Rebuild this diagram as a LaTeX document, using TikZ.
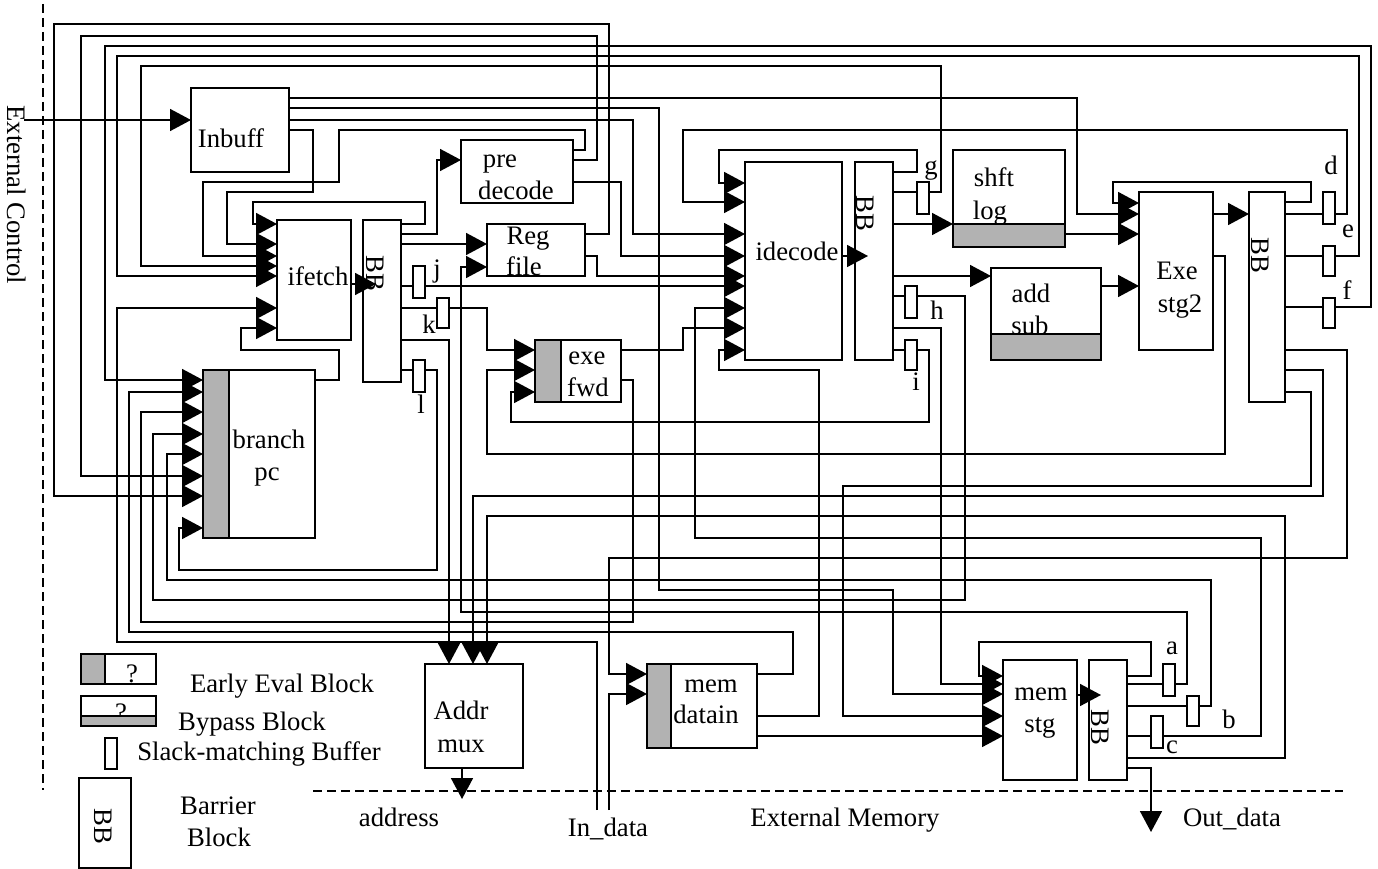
\documentclass[tikz,border=0pt]{standalone}
\usepackage{fontspec}
\setmainfont{Liberation Serif}
\usetikzlibrary{arrows.meta}
\definecolor{barfill}{gray}{0.7}

\begin{document}
\begin{tikzpicture}[
    x=1pt, y=-1pt,
    >={Triangle[length=21pt, width=22pt]},
    wire/.style     = {line width=1.7pt},
    blockbox/.style = {draw, line width=1.7pt, anchor=north west, inner sep=0pt, outer sep=0pt},
    bar/.style      = {blockbox, fill=barfill},
    slack/.style    = {blockbox, minimum width=12},
    txt/.style      = {font=\fontsize{26.7}{30}\selectfont, anchor=base, inner sep=0pt},
    sidebb/.style   = {font=\fontsize{26.7}{30}\selectfont, rotate=-90, inner sep=0pt},
    extern/.style   = {line width=1.7pt, dash pattern=on 9pt off 5pt}
]
\useasboundingbox (0,0) rectangle (1378,869);

% Block texts go first: borders and grey bars cut across some of them
\node[txt] (tinbuff) at (231,148) {Inbuff};
\node[txt] (tpre)    at (500,168) {pre};
\node[txt] (tdecode) at (516,200) {decode};
\node[txt] (treg)    at (528,244) {Reg};
\node[txt] (tfile)   at (524,275) {file};
\node[txt] (tifetch) at (318,285) {ifetch};
\node[txt] (tidec)   at (797,260) {idecode};
\node[txt] (texe)    at (587,364) {exe};
\node[txt] (tfwd)    at (588,396) {fwd};
\node[txt] (tbranch) at (269,448) {branch};
\node[txt] (tpc)     at (267,480) {pc};
\node[txt] (tshft)   at (994,186) {shft};
\node[txt] (tlog)    at (990,219) {log};
\node[txt] (tadd)    at (1031,302) {add};
\node[txt] (tsub)    at (1030,334) {sub};
\node[txt] (tstga)   at (1177,279) {Exe};
\node[txt] (tstgb)   at (1180,312) {stg2};
\node[txt] (tmema)   at (711,692) {mem};
\node[txt] (tdatain) at (706,723) {datain};
\node[txt] (tmemb)   at (1041,700) {mem};
\node[txt] (tstg)    at (1040,732) {stg};
\node[txt] (taddr)   at (461,719) {Addr};
\node[txt] (tmux)    at (461,752) {mux};
\node[sidebb] (tbba) at (375,273) {BB};
\node[sidebb] (tbbb) at (865,213) {BB};
\node[sidebb] (tbbc) at (1260,255) {BB};
\node[sidebb] (tbbd) at (1100,727) {BB};

% Legend texts
\node[txt] (qearly)  at (132,682) {?};
\node[txt] (qbypass) at (121,721) {?};
\node[sidebb] (tkeybb) at (103,826) {BB};
\node[txt] (learly)  at (282,692) {Early Eval Block};
\node[txt] (lbypass) at (252,730) {Bypass Block};
\node[txt] (lslack)  at (259,760) {Slack-matching Buffer};
\node[txt] (lbarr)   at (218,814) {Barrier};
\node[txt] (lblock)  at (219,846) {Block};

% Outside world
\node[sidebb] (lctrl) at (17,195) {External Control};
\node[txt] (laddress) at (399,826) {address};
\node[txt] (lindata)  at (608,836) {In\_data};
\node[txt] (lmemory)  at (845,826) {External Memory};
\node[txt] (loutdata) at (1232,826) {Out\_data};

% Buffer letters
\node[txt] (la) at (1172,654) {a};
\node[txt] (lb) at (1229,728) {b};
\node[txt] (lc) at (1172,753) {c};
\node[txt] (ld) at (1331,175) {d};
\node[txt] (le) at (1348,237) {e};
\node[txt] (lf) at (1347,299) {f};
\node[txt] (lg) at (931,175) {g};
\node[txt] (lh) at (937,319) {h};
\node[txt] (li) at (916,390) {i};
\node[txt] (lj) at (437,277) {j};
\node[txt] (lk) at (429,333) {k};
\node[txt] (ll) at (421,413) {l};

% Blocks
\node[blockbox, minimum width=98,  minimum height=84]  (inbuff) at (191,88) {};
\node[blockbox, minimum width=112, minimum height=63]  (pre)    at (461,140) {};
\node[blockbox, minimum width=98,  minimum height=52]  (reg)    at (487,224) {};
\node[blockbox, minimum width=74,  minimum height=120] (ifetch) at (277,220) {};
\node[blockbox, minimum width=38,  minimum height=162] (bba)    at (363,220) {};
\node[blockbox, minimum width=97,  minimum height=198] (idec)   at (745,162) {};
\node[blockbox, minimum width=38,  minimum height=198] (bbb)    at (855,162) {};
\node[blockbox, minimum width=86,  minimum height=62]  (exefwd) at (535,340) {};
\node[blockbox, minimum width=112, minimum height=168] (branch) at (203,370) {};
\node[blockbox, minimum width=112, minimum height=97]  (shft)   at (953,150) {};
\node[blockbox, minimum width=110, minimum height=92]  (addsub) at (991,268) {};
\node[blockbox, minimum width=74,  minimum height=158] (exe)    at (1139,192) {};
\node[blockbox, minimum width=36,  minimum height=210] (bbc)    at (1249,192) {};
\node[blockbox, minimum width=74,  minimum height=120] (memstg) at (1003,660) {};
\node[blockbox, minimum width=38,  minimum height=120] (bbd)    at (1089,660) {};
\node[blockbox, minimum width=110, minimum height=84]  (datain) at (647,664) {};
\node[blockbox, minimum width=98,  minimum height=104] (addr)   at (425,664) {};

% Grey parts of early eval and bypass blocks
\node[bar, minimum width=26,  minimum height=168] (barbranch) at (203,370) {};
\node[bar, minimum width=26,  minimum height=62]  (barexe)    at (535,340) {};
\node[bar, minimum width=24,  minimum height=84]  (bardatain) at (647,664) {};
\node[bar, minimum width=112, minimum height=23]  (barshft)   at (953,224) {};
\node[bar, minimum width=110, minimum height=26]  (baradd)    at (991,334) {};

% Legend boxes
\node[blockbox, minimum width=75, minimum height=30] (keyearly)  at (81,654) {};
\node[bar, minimum width=24, minimum height=30]      (keybara)   at (81,654) {};
\node[blockbox, minimum width=75, minimum height=30] (keybypass) at (81,696) {};
\node[bar, minimum width=75, minimum height=10]      (keybarb)   at (81,716) {};
\node[slack, minimum height=31]                      (keyslack)  at (105,738) {};
\node[blockbox, minimum width=52, minimum height=90] (keybb)     at (79,778) {};

% Slack-matching buffers
\node[slack, minimum height=32] (slackj) at (413,266) {};
\node[slack, minimum height=30] (slackk) at (437,298) {};
\node[slack, minimum height=32] (slackl) at (413,360) {};
\node[slack, minimum height=32] (slackg) at (917,182) {};
\node[slack, minimum height=32] (slackh) at (905,286) {};
\node[slack, minimum height=30] (slacki) at (905,340) {};
\node[slack, minimum height=32] (slackd) at (1323,192) {};
\node[slack, minimum height=30] (slacke) at (1323,246) {};
\node[slack, minimum height=30] (slackf) at (1323,298) {};
\node[slack, minimum height=32] (slacka) at (1163,664) {};
\node[slack, minimum height=30] (slackb) at (1187,696) {};
\node[slack, minimum height=32] (slackc) at (1151,716) {};

% Free ends
\coordinate (ctrlin)   at (24,120);
\coordinate (addrout)  at (462,799);
\coordinate (outdata)  at (1151,832);
\coordinate (indataa)  at (597,810);
\coordinate (indatab)  at (609,810);
\coordinate (bbatip)   at (376,284);
\coordinate (bbbtip)   at (868,256);
\coordinate (bbdtip)   at (1101,695);

% Boundaries of the chip
\draw[extern] (43,4) -- (43,790);
\draw[extern] (313,791) -- (1343,791);

% Wires that leave by the top and come back down the left side
\draw[wire, ->] (reg.east |- 0,234) -- (609,234) -- (609,24) -- (54,24) -- (54,496) -- (branch.west |- 0,496);
\draw[wire, ->] (pre.east |- 0,160) -- (597,160) -- (597,36) -- (81,36) -- (81,476) -- (branch.west |- 0,476);
\draw[wire, ->] (slackf.east |- 0,307) -- (1371,307) -- (1371,46) -- (105,46) -- (105,380) -- (branch.west |- 0,380);
\draw[wire, ->] (slacke.east |- 0,256) -- (1359,256) -- (1359,56) -- (117,56) -- (117,276) -- (ifetch.west |- 0,276);
\draw[wire, ->] (slackg.east |- 0,192) -- (941,192) -- (941,66) -- (141,66) -- (141,266) -- (ifetch.west |- 0,266);

% Inbuff
\draw[wire, ->] (ctrlin) -- (inbuff.west |- ctrlin);
\draw[wire, ->] (inbuff.east |- 0,98) -- (1077,98) -- (1077,214) -- (exe.west |- 0,214);
\draw[wire, ->] (inbuff.east |- 0,108) -- (659,108) -- (659,590) -- (893,590) -- (893,694) -- (memstg.west |- 0,694);
\draw[wire, ->] (inbuff.east |- 0,120) -- (633,120) -- (633,234) -- (idec.west |- 0,234);
\draw[wire, ->] (inbuff.east |- 0,130) -- (313,130) -- (313,192) -- (227,192) -- (227,244) -- (ifetch.west |- 0,244);

% pre decode and Reg file
\draw[wire, ->] (pre.east |- 0,150) -- (585,150) -- (585,130) -- (339,130) -- (339,182) -- (203,182) -- (203,256) -- (ifetch.west |- 0,256);
\draw[wire, ->] (pre.east |- 0,182) -- (621,182) -- (621,256) -- (idec.west |- 0,256);
\draw[wire, ->] (reg.east |- 0,256) -- (597,256) -- (597,276) -- (idec.west |- 0,276);

% ifetch and its barrier
\draw[wire, ->] (ifetch.east |- bbatip) -- (bbatip);
\draw[wire, ->] (bba.east |- 0,224) -- (425,224) -- (425,202) -- (253,202) -- (253,224) -- (ifetch.west |- 0,224);
\draw[wire, ->] (bba.east |- 0,234) -- (437,234) -- (437,160) -- (pre.west |- 0,160);
\draw[wire, ->] (bba.east |- 0,244) -- (reg.west |- 0,244);
\draw[wire] (bba.east |- 0,286) -- (slackj.west |- 0,286);
\draw[wire, ->] (slackj.east |- 0,286) -- (idec.west |- 0,286);
\draw[wire] (bba.east |- 0,308) -- (slackk.west |- 0,308);
\draw[wire, ->] (slackk.east |- 0,308) -- (487,308) -- (487,350) -- (exefwd.west |- 0,350);
\draw[wire, ->] (bba.east |- 0,340) -- (449,340) -- (addr.north -| 449,0);
\draw[wire] (bba.east |- 0,370) -- (slackl.west |- 0,370);
\draw[wire, ->] (slackl.east |- 0,370) -- (437,370) -- (437,570) -- (179,570) -- (179,528) -- (branch.west |- 0,528);

% branch pc back to ifetch, In_data to ifetch
\draw[wire, ->] (branch.east |- 0,380) -- (339,380) -- (339,350) -- (241,350) -- (241,328) -- (ifetch.west |- 0,328);
\draw[wire, ->] (indataa) -- (597,642) -- (117,642) -- (117,308) -- (ifetch.west |- 0,308);
\draw[wire, ->] (indatab) -- (609,694) -- (datain.west |- 0,694);

% exe fwd
\draw[wire, ->] (exefwd.east |- 0,350) -- (683,350) -- (683,328) -- (idec.west |- 0,328);
\draw[wire, ->] (exefwd.east |- 0,380) -- (633,380) -- (633,622) -- (141,622) -- (141,412) -- (branch.west |- 0,412);

% idecode and its barrier
\draw[wire, ->] (idec.east |- bbbtip) -- (bbbtip);
\draw[wire, ->] (bbb.east |- 0,172) -- (917,172) -- (917,150) -- (719,150) -- (719,183) -- (idec.west |- 0,183);
\draw[wire] (bbb.east |- 0,192) -- (slackg.west |- 0,192);
\draw[wire, ->] (bbb.east |- 0,224) -- (shft.west |- 0,224);
\draw[wire, ->] (bbb.east |- 0,276) -- (addsub.west |- 0,276);
\draw[wire] (bbb.east |- 0,296) -- (slackh.west |- 0,296);
\draw[wire, ->] (slackh.east |- 0,296) -- (965,296) -- (965,600) -- (153,600) -- (153,434) -- (branch.west |- 0,434);
\draw[wire, ->] (bbb.east |- 0,328) -- (941,328) -- (941,684) -- (memstg.west |- 0,684);
\draw[wire] (bbb.east |- 0,350) -- (slacki.west |- 0,350);
\draw[wire, ->] (slacki.east |- 0,350) -- (929,350) -- (929,422) -- (511,422) -- (511,392) -- (exefwd.west |- 0,392);

% shft log, add sub and Exe stg2
\draw[wire, ->] (shft.east |- 0,234) -- (exe.west |- 0,234);
\draw[wire, ->] (addsub.east |- 0,286) -- (exe.west |- 0,286);
\draw[wire, ->] (exe.east |- 0,214) -- (bbc.west |- 0,214);
\draw[wire, ->] (exe.east |- 0,256) -- (1225,256) -- (1225,454) -- (487,454) -- (487,370) -- (exefwd.west |- 0,370);

% barrier after Exe stg2
\draw[wire, ->] (bbc.east |- 0,202) -- (1311,202) -- (1311,182) -- (1113,182) -- (1113,203) -- (exe.west |- 0,203);
\draw[wire] (bbc.east |- 0,214) -- (slackd.west |- 0,214);
\draw[wire, ->] (slackd.east |- 0,214) -- (1347,214) -- (1347,130) -- (683,130) -- (683,202) -- (idec.west |- 0,202);
\draw[wire] (bbc.east |- 0,256) -- (slacke.west |- 0,256);
\draw[wire] (bbc.east |- 0,307) -- (slackf.west |- 0,307);
\draw[wire, ->] (bbc.east |- 0,350) -- (1347,350) -- (1347,558) -- (609,558) -- (609,674) -- (datain.west |- 0,674);
\draw[wire, ->] (bbc.east |- 0,370) -- (1323,370) -- (1323,496) -- (473,496) -- (addr.north -| 473,0);
\draw[wire, ->] (bbc.east |- 0,392) -- (1311,392) -- (1311,486) -- (843,486) -- (843,716) -- (memstg.west |- 0,716);

% mem datain
\draw[wire, ->] (datain.east |- 0,674) -- (793,674) -- (793,632) -- (129,632) -- (129,392) -- (branch.west |- 0,392);
\draw[wire, ->] (datain.east |- 0,716) -- (819,716) -- (819,370) -- (719,370) -- (719,350) -- (idec.west |- 0,350);
\draw[wire, ->] (datain.east |- 0,736) -- (memstg.west |- 0,736);

% mem stg and its barrier
\draw[wire, ->] (memstg.east |- bbdtip) -- (bbdtip);
\draw[wire, ->] (bbd.east |- 0,676) -- (1151,676) -- (1151,642) -- (979,642) -- (979,676) -- (memstg.west |- 0,676);
\draw[wire] (bbd.east |- 0,684) -- (slacka.west |- 0,684);
\draw[wire, ->] (slacka.east |- 0,684) -- (1187,684) -- (1187,612) -- (461,612) -- (461,267) -- (reg.west |- 0,267);
\draw[wire] (bbd.east |- 0,706) -- (slackb.west |- 0,706);
\draw[wire, ->] (slackb.east |- 0,706) -- (1211,706) -- (1211,580) -- (167,580) -- (167,454) -- (branch.west |- 0,454);
\draw[wire] (bbd.east |- 0,736) -- (slackc.west |- 0,736);
\draw[wire, ->] (slackc.east |- 0,736) -- (1261,736) -- (1261,538) -- (695,538) -- (695,308) -- (idec.west |- 0,308);
\draw[wire, ->] (bbd.east |- 0,758) -- (1285,758) -- (1285,516) -- (487,516) -- (addr.north -| 487,0);
\draw[wire, ->] (bbd.east |- 0,768) -- (1151,768) -- (outdata);

% Addr mux out
\draw[wire, ->] (addr.south -| addrout) -- (addrout);

\end{tikzpicture}
\end{document}
